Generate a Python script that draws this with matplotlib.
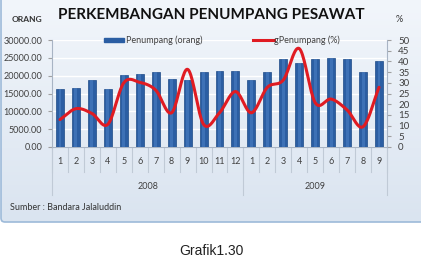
import numpy as np
import matplotlib
matplotlib.use("Agg")
import matplotlib.pyplot as plt
from matplotlib.patches import FancyBboxPatch, Rectangle
from matplotlib.lines import Line2D
from matplotlib.colors import LinearSegmentedColormap
import matplotlib.transforms as mtransforms

# ---------------- data ----------------
months = ["1", "2", "3", "4", "5", "6", "7", "8", "9", "10", "11", "12",
          "1", "2", "3", "4", "5", "6", "7", "8", "9"]
years = ["2008", "2009"]
year_counts = [12, 9]
penumpang = [16200, 16500, 18800, 16200, 20300, 20500, 21100, 19200, 18800, 21100, 21400,
             21400, 18800, 21100, 24600, 23600, 24700, 25000, 24700, 21100, 24100]
g_penumpang = [12.8, 17.9, 15.7, 10.6, 30.0, 30.2, 26.6, 16.0, 36.3, 10.6, 16.0,
               25.9, 16.0, 27.9, 31.3, 46.0, 20.7, 22.4, 17.3, 9.5, 27.9]
left_ticks = [0, 5000, 10000, 15000, 20000, 25000, 30000]
right_ticks = [0, 5, 10, 15, 20, 25, 30, 35, 40, 45, 50]

W, H = 421, 266
fig = plt.figure(figsize=(W / 100, H / 100), dpi=100)
fig.patch.set_facecolor("white")

FONT = ["Lato", "DejaVu Sans"]

def fx(px):
    return px / W

def fy(py):
    return 1 - py / H

# background chart box with gradient
bg = fig.add_axes([0, 0, 1, 1], zorder=0)
bg.set_xlim(0, W)
bg.set_ylim(H, 0)
bg.axis("off")
grad = np.linspace(0, 1, 256).reshape(-1, 1)
cmap = LinearSegmentedColormap.from_list("g", ["#f2f6fb", "#dae4f0"])
bg.imshow(grad, extent=[1, W + 5, 222, 0], cmap=cmap, aspect="auto", zorder=0)
box = FancyBboxPatch((1, -5), W + 5, 227, boxstyle="round,pad=0,rounding_size=4",
                     fill=False, edgecolor="#9dbad9", linewidth=1.2, zorder=1)
bg.add_patch(box)

# ---------------- main axes ----------------
x0, x1 = 52, 387
ytop, ybot = 40, 147
ax = fig.add_axes([fx(x0), fy(ybot), fx(x1 - x0), (ybot - ytop) / H], zorder=2)
ax.patch.set_alpha(0)
x = np.arange(len(penumpang))
ax.bar(x, penumpang, width=0.5, color="#2b5ea3", edgecolor="#1d4a86", linewidth=0.5, zorder=3)
ax.bar(x, penumpang, width=0.18, color="#4a7fc4", linewidth=0, zorder=3, alpha=0.6)
ax.set_xlim(-0.5, len(penumpang) - 0.5)
ax.set_ylim(0, 30000)
ax.set_yticks(left_ticks)
ax.set_yticklabels([f"{v:.2f}" for v in left_ticks], fontsize=6.5, color="#404040", family=FONT)
ax.tick_params(axis="y", length=3, color="#a0a0a0", pad=4)
ax.set_xticks([])
ax.yaxis.grid(True, color="#ffffff", linewidth=1.0, zorder=1)
ax.set_axisbelow(True)
for s in ["top", "right"]:
    ax.spines[s].set_visible(False)
for s in ["left", "bottom"]:
    ax.spines[s].set_color("#a8b4c4")
    ax.spines[s].set_linewidth(0.8)

# category axis labels & separators
trans = mtransforms.blended_transform_factory(ax.transData, ax.transAxes)
hpx = ybot - ytop
for i, m in enumerate(months):
    ax.text(i, -15 / hpx, m, transform=trans, ha="center", va="center",
            fontsize=6.5, color="#404040", family=FONT, clip_on=False)
for b in np.arange(-0.5, len(months), 1.0):
    ax.add_line(Line2D([b, b], [0, -25 / hpx], transform=trans, color="#c0cad6",
                       linewidth=0.8, clip_on=False))
start = 0
bounds = [-0.5]
for yname, cnt in zip(years, year_counts):
    ax.text(start + (cnt - 1) / 2, -39 / hpx, yname, transform=trans, ha="center",
            va="center", fontsize=6.5, color="#404040", family=FONT, clip_on=False)
    start += cnt
    bounds.append(start - 0.5)
for b in bounds:
    ax.add_line(Line2D([b, b], [0, -48 / hpx], transform=trans, color="#c0cad6",
                       linewidth=0.8, clip_on=False))

# ---------------- secondary axis ----------------
ax2 = ax.twinx()
ax2.set_zorder(3)
ax2.set_ylim(0, 50)
ax2.set_yticks(right_ticks)
ax2.set_yticklabels([str(v) for v in right_ticks], fontsize=7, color="#404040", family=FONT)
ax2.tick_params(axis="y", length=3, color="#a0a0a0", pad=5)
for s in ["top", "left", "bottom"]:
    ax2.spines[s].set_visible(False)
ax2.spines["right"].set_color("#a8b4c4")
ax2.spines["right"].set_linewidth(0.8)

def catmull_rom(xs, ys, n=20):
    P = np.column_stack([xs, ys]).astype(float)
    P = np.vstack([P[0] * 2 - P[1], P, P[-1] * 2 - P[-2]])
    out = []
    for i in range(1, len(P) - 2):
        p0, p1, p2, p3 = P[i - 1], P[i], P[i + 1], P[i + 2]
        t = np.linspace(0, 1, n, endpoint=False)[:, None]
        pt = 0.5 * ((2 * p1) + (-p0 + p2) * t + (2 * p0 - 5 * p1 + 4 * p2 - p3) * t ** 2
                    + (-p0 + 3 * p1 - 3 * p2 + p3) * t ** 3)
        out.append(pt)
    out.append(P[-2][None, :])
    return np.vstack(out)

curve = catmull_rom(x, g_penumpang)
ax2.plot(curve[:, 0], curve[:, 1], color="#e01b22", linewidth=2.2, solid_capstyle="round", zorder=4)

# ---------------- overlay for texts & legend ----------------
ov = fig.add_axes([0, 0, 1, 1], zorder=10)
ov.set_xlim(0, W)
ov.set_ylim(H, 0)
ov.axis("off")
ov.patch.set_alpha(0)

ov.text(211, 15, "PERKEMBANGAN PENUMPANG PESAWAT", ha="center", va="center",
        fontsize=11, fontweight="bold", color="#111111", family=FONT)
ov.text(27, 19, "ORANG", ha="center", va="center", fontsize=6,
        fontweight="bold", color="#333333", family=FONT)
ov.text(399, 19, "%", ha="center", va="center", fontsize=6.5,
        color="#333333", family=FONT)
ov.text(10, 208, "Sumber : Bandara Jalaluddin", ha="left", va="center",
        fontsize=6.5, color="#333333", family=FONT)
ov.text(211, 251, "Grafik1.30", ha="center", va="center", fontsize=10,
        color="#222222", family=["Liberation Sans", "DejaVu Sans"])

ov.add_patch(Rectangle((104, 38), 20, 4, color="#2b5ea3"))
ov.text(126, 40, "Penumpang (orang)", ha="left", va="center", fontsize=6.5,
        color="#404040", family=FONT)
ov.add_line(Line2D([253, 274], [40, 40], color="#e01b22", linewidth=2.2))
ov.text(274, 40, "gPenumpang (%)", ha="left", va="center", fontsize=6.5,
        color="#404040", family=FONT)

fig.savefig("out.png", dpi=100)
